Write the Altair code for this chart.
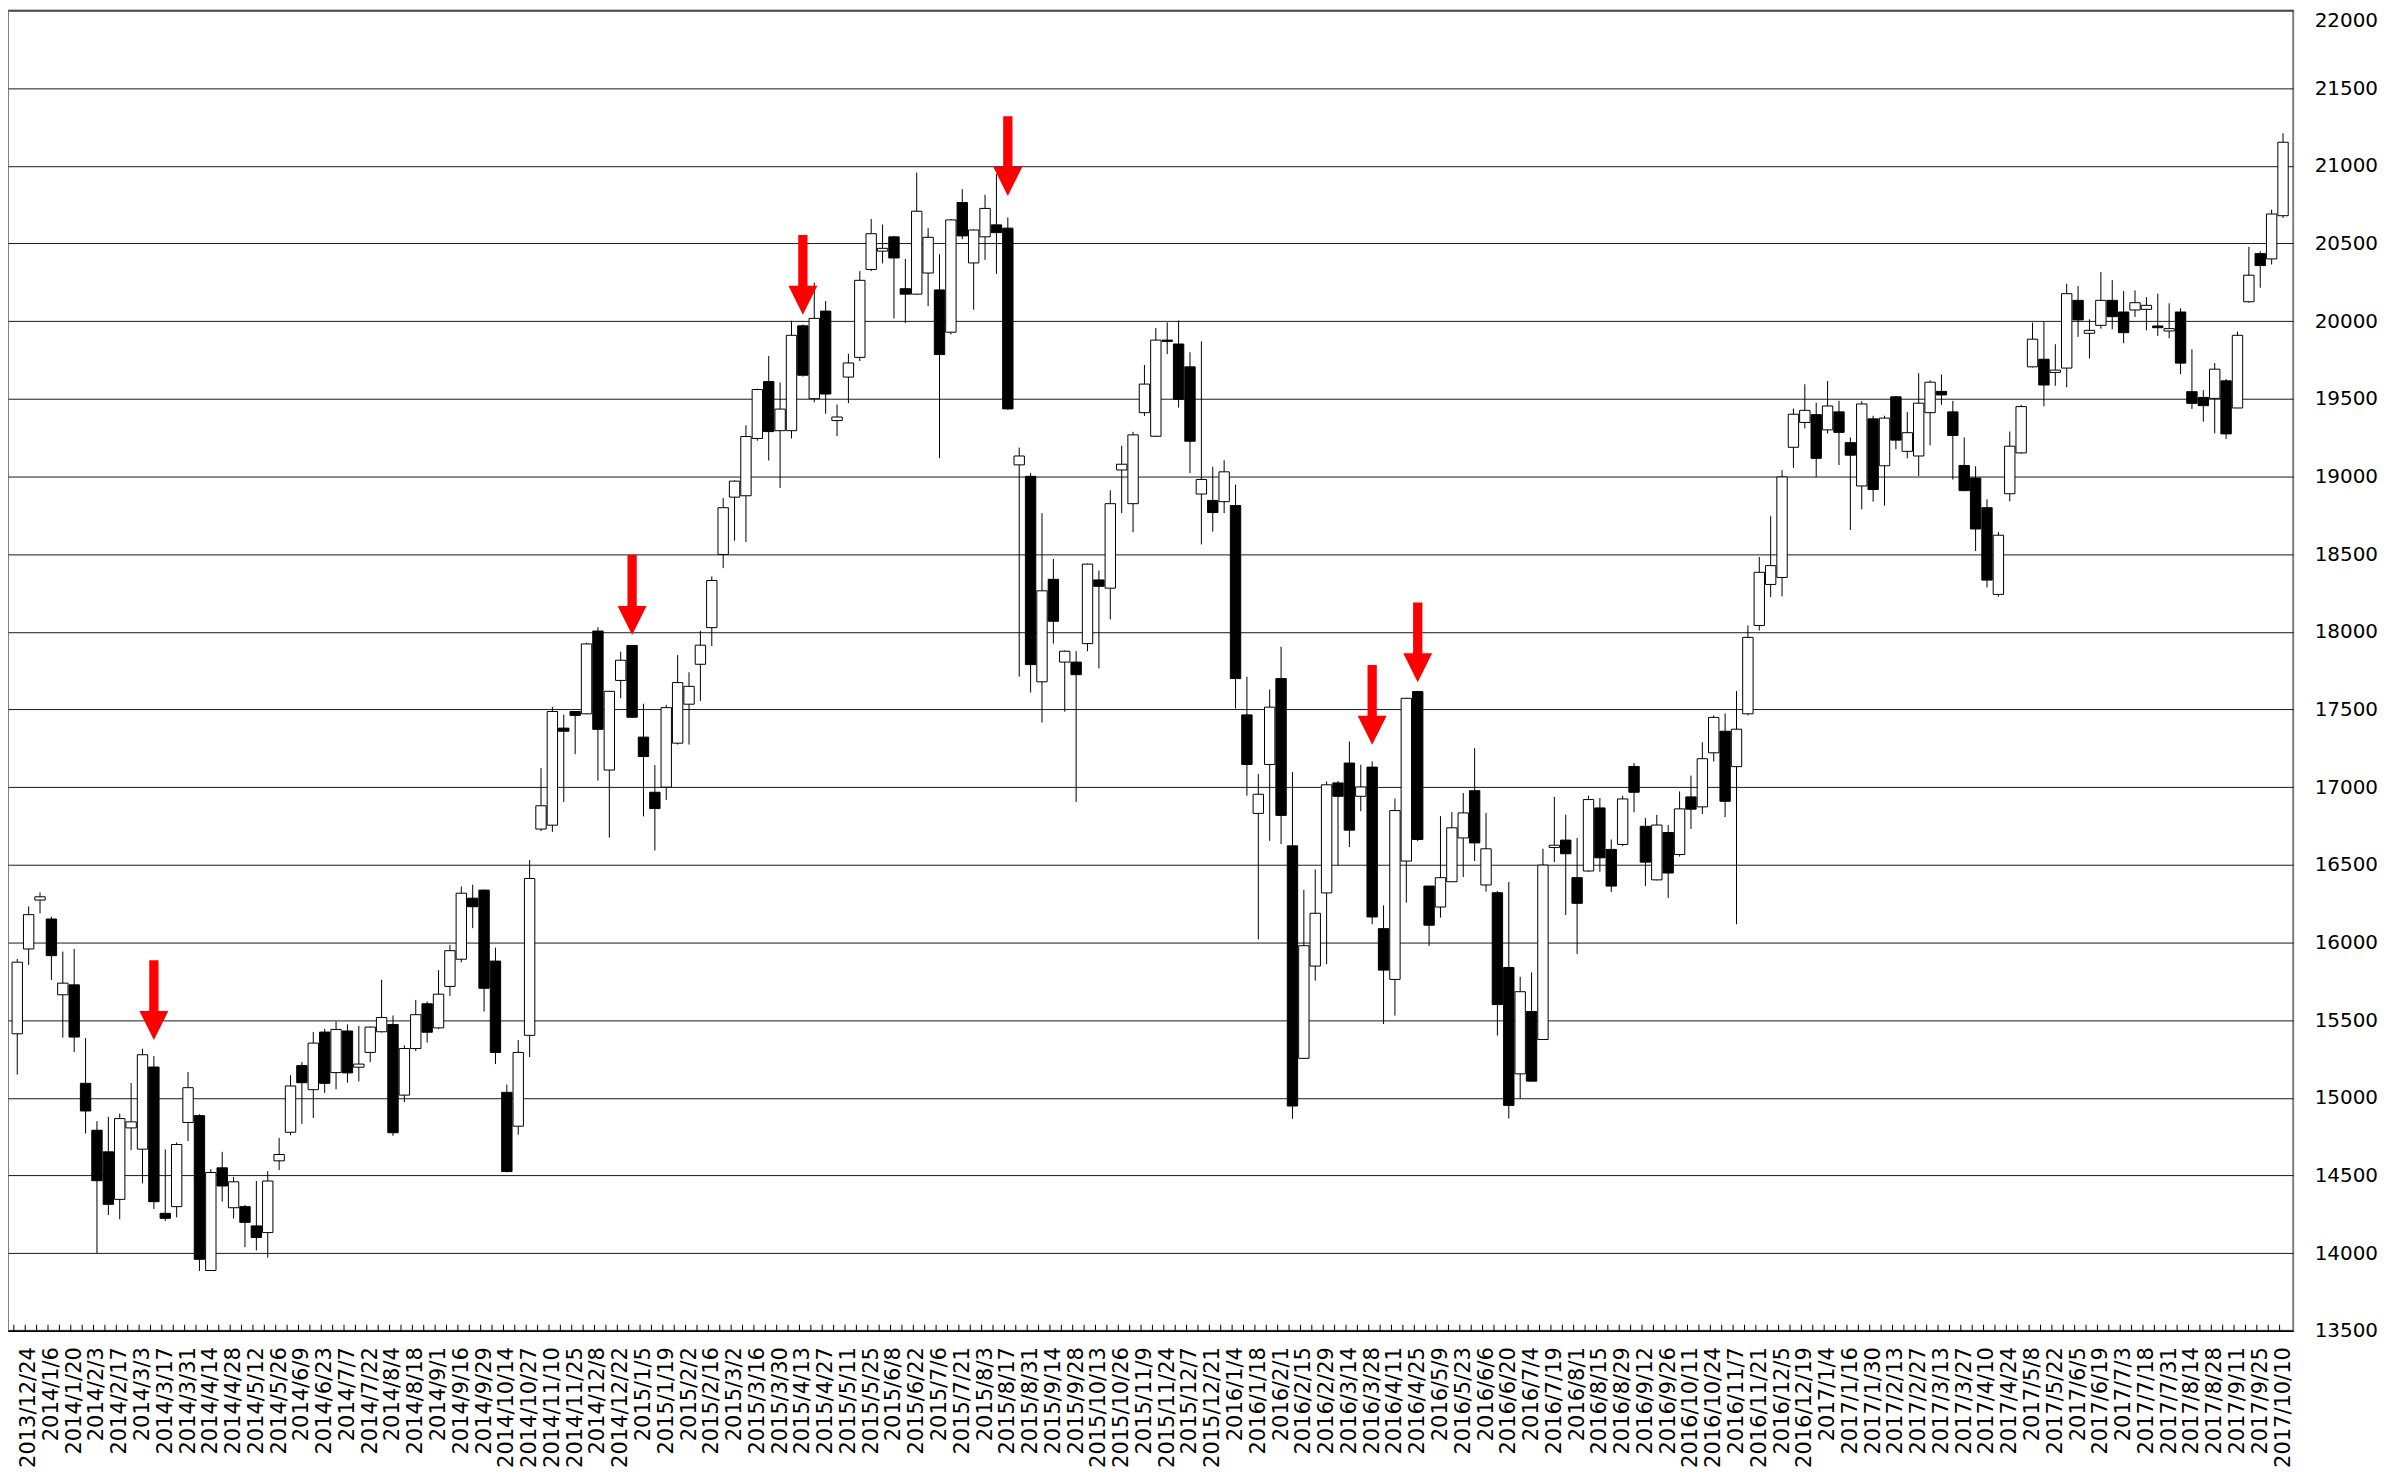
import altair as alt
import pandas as pd

# Weekly OHLC
opens = [15412, 15958, 16273, 16151, 15663, 15727, 15093, 14791, 14652, 14346,
         14806, 14669, 15198, 14256, 14299, 14841, 14885, 13888, 14549, 14292,
         14299, 14175, 14132, 14594, 14778, 15207, 15052, 15423, 15162, 15430,
         15197, 15292, 15425, 15472, 15017, 15317, 15605, 15450, 15717, 15892,
         16285, 16337, 15880, 15035, 14817, 15402, 16730, 16755, 17380, 17487,
         17472, 18005, 17110, 17687, 17912, 17322, 16967, 17000, 17283, 17534,
         17791, 18027, 18498, 18867, 18876, 19245, 19611, 19295, 19295, 19970,
         19501, 20065, 19360, 19640, 19767, 20333, 20451, 20543, 20209, 20174,
         20310, 20201, 19929, 20764, 20375, 20543, 20620, 20599, 19075, 19001,
         17678, 18338, 17805, 17805, 17924, 18334, 18281, 19042, 18825, 19411,
         19259, 19878, 19853, 19706, 18887, 18846, 18838, 18813, 17465, 16831,
         17146, 17699, 16622, 15254, 15848, 16319, 17027, 17155, 16941, 17129,
         16089, 15762, 16524, 17615, 16363, 16228, 16391, 16673, 16977, 16370,
         16320, 15839, 15154, 15555, 15375, 16611, 16659, 16417, 16460, 16866,
         16599, 16631, 17133, 16748, 16403, 16708, 16566, 16937, 16873, 17221,
         17360, 17132, 17472, 18041, 18305, 18350, 19188, 19348, 19398, 19300,
         19416, 19218, 18939, 19371, 19069, 19513, 19162, 19132, 19411, 19548,
         19416, 19071, 18990, 18799, 18241, 18889, 19152, 19706, 19755, 19670,
         19698, 20134, 19922, 19973, 20134, 20059, 20072, 20076, 19969, 19937,
         20059, 19546, 19509, 19503, 19616, 19441, 20125, 20435, 20401, 20679]
highs = [15894, 16232, 16322, 16166, 15941, 15958, 15384, 14849, 14877, 14898,
         15095, 15316, 15269, 14667, 14712, 15166, 14894, 14541, 14652, 14491,
         14310, 14464, 14528, 14742, 15145, 15230, 15423, 15444, 15491, 15472,
         15462, 15460, 15760, 15530, 15337, 15630, 15620, 15822, 15985, 16360,
         16372, 16340, 15967, 15085, 15372, 16530, 17122, 17517, 17467, 17490,
         17930, 18030, 17620, 17872, 17915, 17537, 17142, 17530, 17850, 17740,
         18006, 18357, 18861, 18975, 19330, 19565, 19776, 19605, 20003, 19979,
         20248, 20130, 19463, 19790, 20322, 20658, 20622, 20549, 20401, 20956,
         20599, 20431, 20655, 20850, 20590, 20814, 20947, 20668, 19186, 19022,
         18764, 18469, 17880, 17875, 18440, 18395, 18911, 19198, 19288, 19718,
         19956, 19992, 20005, 19800, 19870, 19063, 19104, 18948, 17711, 17085,
         17629, 17904, 17097, 16339, 16470, 17036, 17040, 17294, 17144, 17166,
         16239, 16926, 17575, 17620, 16365, 16813, 16840, 16962, 17251, 16834,
         16331, 16389, 15779, 15807, 16603, 16937, 16823, 16673, 16945, 16930,
         16663, 16945, 17155, 16802, 16822, 16756, 16972, 17074, 17289, 17462,
         17475, 17619, 18041, 18482, 18744, 19041, 19437, 19594, 19475, 19614,
         19487, 19251, 19485, 19391, 19391, 19518, 19416, 19665, 19619, 19657,
         19487, 19251, 19066, 18853, 18643, 19289, 19462, 19991, 19997, 19852,
         20241, 20226, 20012, 20316, 20264, 20194, 20198, 20155, 20177, 20115,
         20083, 19819, 19556, 19730, 19627, 19933, 20478, 20450, 20718, 21210]
lows = [15149, 15855, 16187, 15759, 15387, 15294, 14770, 14000, 14245, 14217,
        14663, 14449, 14284, 14207, 14230, 14721, 13885, 13885, 14331, 14224,
        14038, 14017, 13971, 14534, 14759, 14832, 14870, 15031, 15055, 15097,
        15105, 15230, 15420, 14755, 14972, 15300, 15355, 15442, 15655, 15872,
        16092, 15555, 15217, 14520, 14762, 15262, 16717, 16712, 16905, 17212,
        17470, 17042, 16675, 17572, 17445, 16812, 16592, 16917, 17274, 17274,
        17555, 17908, 18410, 18587, 18578, 19230, 19103, 18926, 19245, 19643,
        19478, 19404, 19260, 19472, 19743, 20322, 20372, 20018, 19988, 20170,
        20097, 19118, 19914, 20528, 20074, 20395, 20304, 19431, 17711, 17609,
        17416, 17924, 17486, 16904, 17875, 17765, 18080, 18764, 18641, 19390,
        19255, 19788, 19444, 19022, 18563, 18645, 18764, 17506, 16945, 16020,
        16654, 16634, 14865, 15250, 15754, 15860, 16496, 16614, 16845, 16117,
        15475, 15529, 16256, 16652, 15978, 16160, 16389, 16421, 16524, 16327,
        15400, 14866, 14994, 15105, 15373, 16517, 16177, 15925, 16455, 16455,
        16325, 16620, 16838, 16363, 16400, 16287, 16553, 16731, 16827, 17165,
        16807, 16117, 17462, 18008, 18223, 18228, 19056, 19310, 18997, 19277,
        19074, 18655, 18789, 18838, 18812, 19175, 19117, 19003, 19201, 19462,
        18980, 18905, 18520, 18286, 18226, 18840, 19146, 19702, 19452, 19584,
        19574, 19899, 19760, 19952, 19948, 19858, 20027, 19941, 19905, 19890,
        19659, 19435, 19353, 19278, 19242, 19440, 20119, 20215, 20365, 20664]
closes = [15873, 16179, 16294, 15915, 15738, 15391, 14915, 14466, 14314, 14866,
          14845, 15277, 14331, 14224, 14699, 15065, 13960, 14519, 14432, 14459,
          14198, 14100, 14464, 14635, 15076, 15097, 15352, 15093, 15440, 15160,
          15217, 15455, 15517, 14775, 15317, 15535, 15422, 15667, 15947, 16317,
          16230, 15705, 15292, 14525, 15292, 16412, 16880, 17487, 17360, 17462,
          17922, 17372, 17617, 17817, 17450, 17197, 16862, 17512, 17673, 17649,
          17914, 18330, 18799, 18970, 19257, 19560, 19289, 19434, 19909, 19652,
          20018, 19531, 19383, 19731, 20263, 20563, 20469, 20407, 20174, 20708,
          20540, 19785, 20652, 20549, 20587, 20726, 20570, 19435, 19132, 17789,
          18264, 18068, 17875, 17724, 18436, 18293, 18825, 19079, 19268, 19595,
          19878, 19870, 19497, 19227, 18981, 18768, 19030, 17699, 17146, 16954,
          17515, 16818, 14947, 15979, 16188, 17015, 16941, 16723, 17001, 16164,
          15822, 16849, 17572, 16663, 16111, 16417, 16738, 16834, 16641, 16603,
          15600, 14951, 15683, 15107, 16498, 16626, 16571, 16252, 16920, 16545,
          16363, 16924, 16967, 16517, 16756, 16447, 16860, 16858, 17183, 17449,
          16909, 17373, 17964, 18383, 18426, 18997, 19401, 19426, 19117, 19454,
          19284, 19137, 19467, 18916, 19376, 19234, 19282, 19472, 19607, 19525,
          19264, 18909, 18662, 18333, 18622, 19195, 19450, 19884, 19589, 19685,
          20177, 20008, 19941, 20134, 20029, 19926, 20119, 20102, 19958, 19952,
          19730, 19471, 19456, 19691, 19274, 19909, 20296, 20358, 20690, 21152]

# Tick labels shown under every other week (odd candle positions)
date_labels = [
    "2013/12/24", "2014/1/6", "2014/1/20", "2014/2/3", "2014/2/17", "2014/3/3",
    "2014/3/17", "2014/3/31", "2014/4/14", "2014/4/28", "2014/5/12", "2014/5/26",
    "2014/6/9", "2014/6/23", "2014/7/7", "2014/7/22", "2014/8/4", "2014/8/18",
    "2014/9/1", "2014/9/16", "2014/9/29", "2014/10/14", "2014/10/27", "2014/11/10",
    "2014/11/25", "2014/12/8", "2014/12/22", "2015/1/5", "2015/1/19", "2015/2/2",
    "2015/2/16", "2015/3/2", "2015/3/16", "2015/3/30", "2015/4/13", "2015/4/27",
    "2015/5/11", "2015/5/25", "2015/6/8", "2015/6/22", "2015/7/6", "2015/7/21",
    "2015/8/3", "2015/8/17", "2015/8/31", "2015/9/14", "2015/9/28", "2015/10/13",
    "2015/10/26", "2015/11/9", "2015/11/24", "2015/12/7", "2015/12/21", "2016/1/4",
    "2016/1/18", "2016/2/1", "2016/2/15", "2016/2/29", "2016/3/14", "2016/3/28",
    "2016/4/11", "2016/4/25", "2016/5/9", "2016/5/23", "2016/6/6", "2016/6/20",
    "2016/7/4", "2016/7/19", "2016/8/1", "2016/8/15", "2016/8/29", "2016/9/12",
    "2016/9/26", "2016/10/11", "2016/10/24", "2016/11/7", "2016/11/21", "2016/12/5",
    "2016/12/19", "2017/1/4", "2017/1/16", "2017/1/30", "2017/2/13", "2017/2/27",
    "2017/3/13", "2017/3/27", "2017/4/10", "2017/4/24", "2017/5/8", "2017/5/22",
    "2017/6/5", "2017/6/19", "2017/7/3", "2017/7/18", "2017/7/31", "2017/8/14",
    "2017/8/28", "2017/9/11", "2017/9/25", "2017/10/10"]

# Red arrows: candle index and price of the arrow tip
arrow_idx = [12, 54, 69, 87, 119, 123]
arrow_tip = [15372, 17980, 20041, 20806, 17273, 17675]

y_values = list(range(13500, 22001, 500))

n = len(opens)
df = pd.DataFrame({"i": list(range(n)), "o": opens, "h": highs, "l": lows, "c": closes})
df["tick"] = df["i"] - 0.3
arrows = pd.DataFrame({"i": arrow_idx, "tip": arrow_tip})

W, H = 2290, 1323
xscale = alt.Scale(domain=[-0.375, 199.454], nice=False, zero=False)
yscale = alt.Scale(domain=[13500, 22000], nice=False, zero=False)

label_expr = "[" + ",".join("'%s'" % d for d in date_labels) + "][floor(datum.value / 2)]"

xaxis = alt.Axis(values=list(range(1, n, 2)), labelExpr=label_expr, labelAngle=270,
                 labelFont="DejaVu Sans", labelFontSize=21, labelColor="black",
                 labelPadding=16, labelFlush=False, labelOverlap=False, labelBound=False,
                 ticks=False, tickSize=0, domain=True, domainColor="black", domainWidth=1.5,
                 grid=False, title=None)
yaxis = alt.Axis(orient="right", values=y_values, format="d", grid=True,
                 gridColor="#1a1a1a", gridWidth=1, ticks=False, tickSize=0, domain=False,
                 labelFont="DejaVu Sans", labelFontSize=20, labelColor="black",
                 labelPadding=21, labelOverlap=False, title=None,
                 labelBaseline={"condition": {"test": "datum.value >= 22000", "value": "top"},
                                "value": "middle"})

base = alt.Chart(df)

wicks = base.mark_rule(color="black", strokeWidth=1).encode(
    x=alt.X("i:Q", scale=xscale, axis=xaxis),
    y=alt.Y("l:Q", scale=yscale, axis=yaxis),
    y2="h:Q",
)

bodies = base.mark_bar(width=10.4, stroke="black", strokeWidth=1).encode(
    x=alt.X("i:Q", scale=xscale, axis=xaxis),
    y=alt.Y("o:Q", scale=yscale, axis=yaxis),
    y2="c:Q",
    fill=alt.condition("datum.c > datum.o", alt.value("white"), alt.value("black")),
)

ticks = base.mark_rule(color="black", strokeWidth=1).encode(
    x=alt.X("tick:Q", scale=xscale, axis=xaxis),
    y=alt.value(H),
    y2=alt.value(H - 6),
)

arrow_path = ("M -0.116 -2 L 0.116 -2 L 0.116 -0.725 L 0.3625 -0.725 L 0 0 "
              "L -0.3625 -0.725 L -0.116 -0.725 Z")
arrow_marks = alt.Chart(arrows).mark_point(
    shape=arrow_path, size=6400, filled=True, fill="#ff0000", strokeWidth=0, opacity=1
).encode(
    x=alt.X("i:Q", scale=xscale, axis=xaxis),
    y=alt.Y("tip:Q", scale=yscale, axis=yaxis),
)

chart = alt.layer(wicks, bodies, ticks, arrow_marks).properties(
    width=W, height=H,
    padding={"left": 0, "top": 1, "right": 0, "bottom": 0},
    background="white",
).configure_view(stroke="#808080", strokeWidth=2)

chart.save("out.html", embed_options={"renderer": "svg", "actions": False})
